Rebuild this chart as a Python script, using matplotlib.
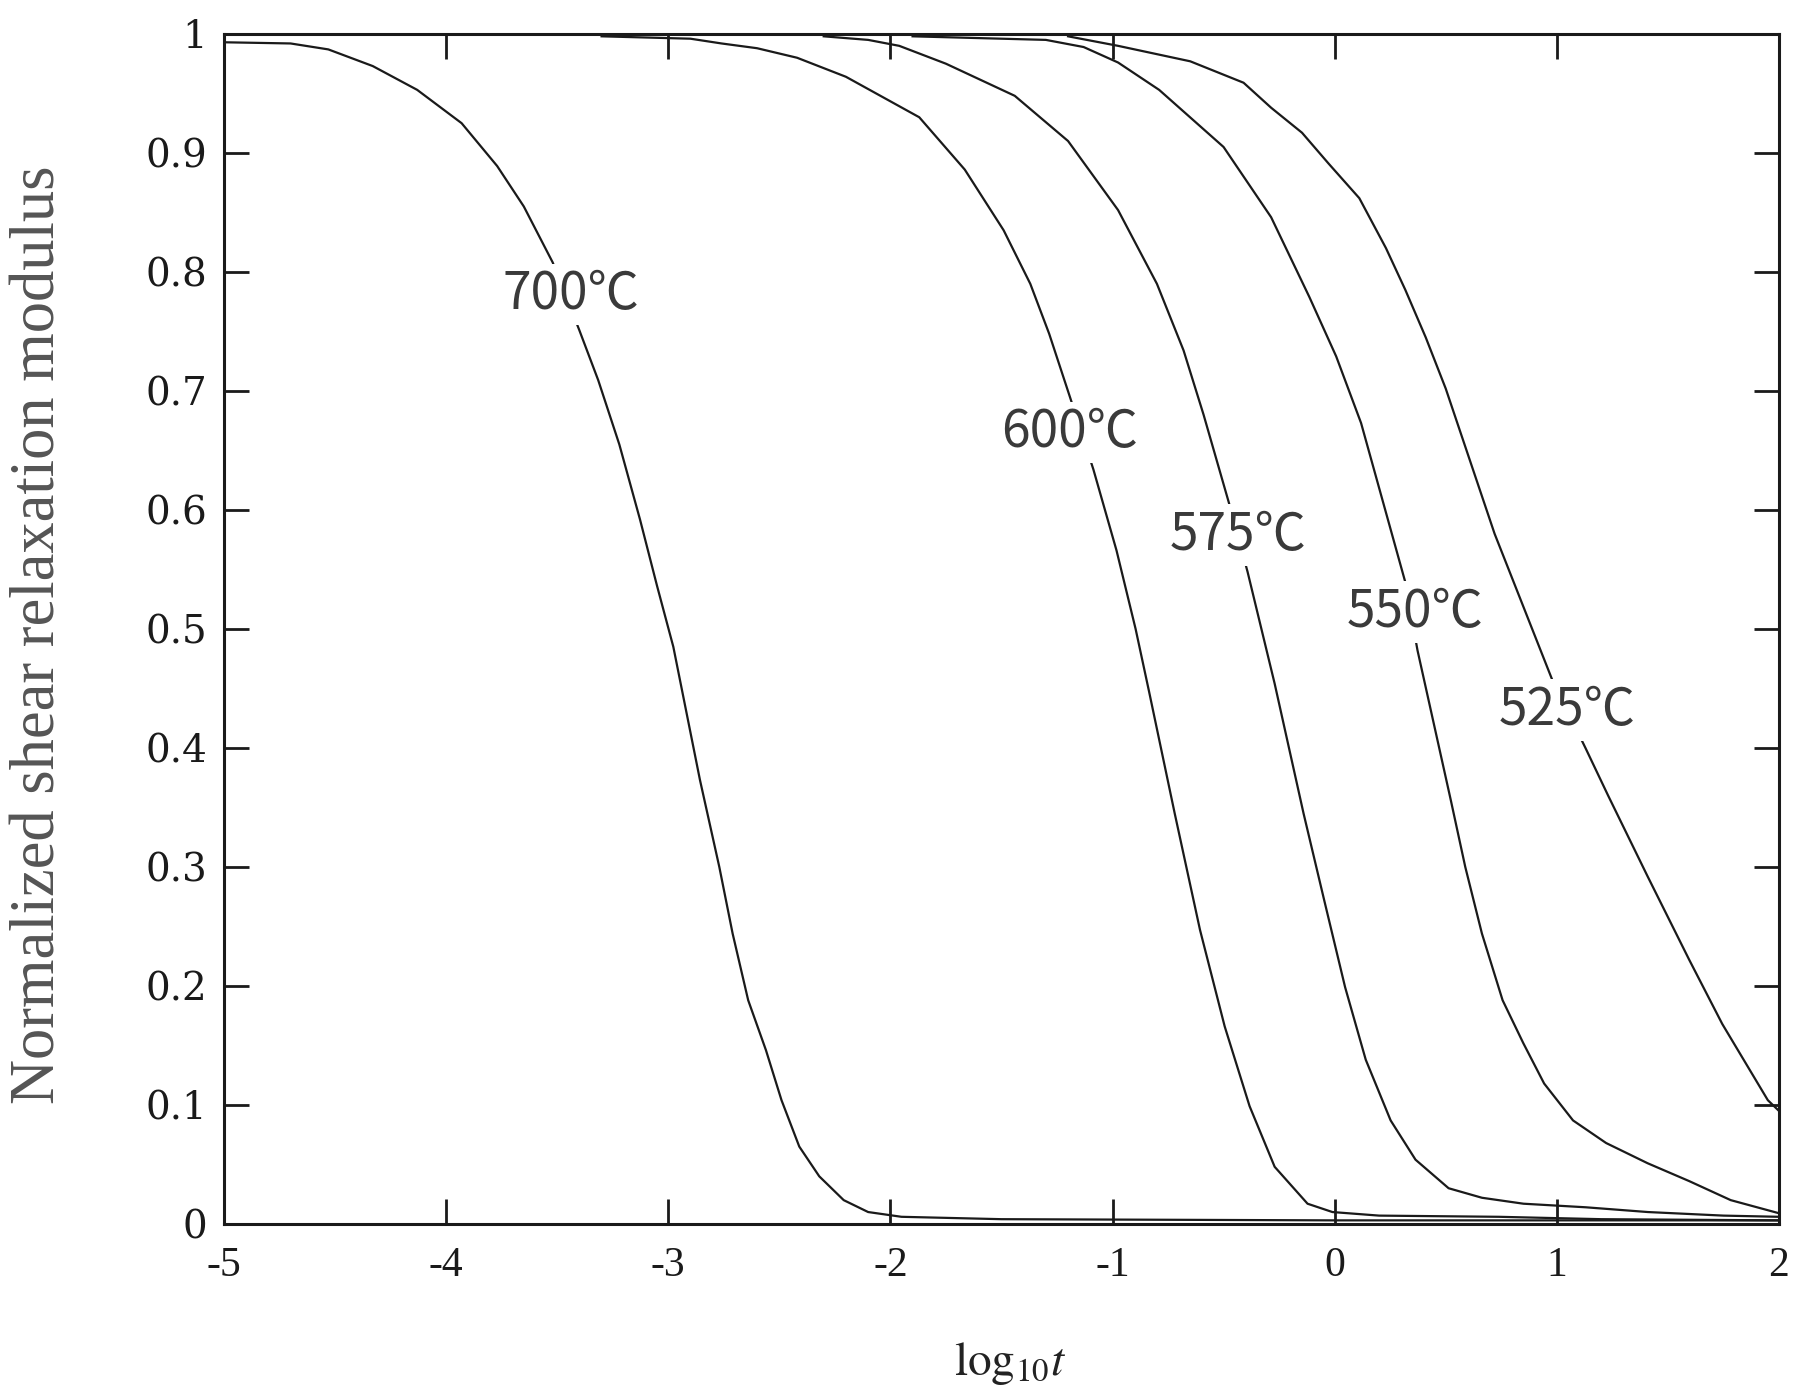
import matplotlib
matplotlib.use("Agg")
import matplotlib.pyplot as plt

plt.rcParams['axes.unicode_minus'] = False
plt.rcParams['mathtext.fontset'] = 'stix'

# curves: log10 t vs normalized modulus
x700 = [-5.0, -4.7, -4.53, -4.33, -4.13, -3.93, -3.77, -3.65, -3.52, -3.40, -3.315, -3.22, -3.127, -3.05,
        -2.977, -2.857, -2.77, -2.71, -2.64, -2.56, -2.49, -2.41, -2.32, -2.21, -2.10, -1.95, -1.5, 0.0, 2.0]
y700 = [0.993, 0.992, 0.987, 0.973, 0.953, 0.925, 0.889, 0.855, 0.808, 0.751, 0.709, 0.655, 0.592, 0.536,
        0.485, 0.373, 0.300, 0.244, 0.188, 0.146, 0.104, 0.065, 0.040, 0.020, 0.010, 0.006, 0.004, 0.003, 0.003]

x600 = [-3.3, -2.9, -2.76, -2.6, -2.42, -2.2, -1.87, -1.665, -1.49, -1.37, -1.285, -1.19, -1.086, -0.982,
        -0.896, -0.835, -0.72, -0.606, -0.495, -0.383, -0.27, -0.122, -0.01, 0.2, 0.74, 1.2, 2.0]
y600 = [0.998, 0.996, 0.992, 0.988, 0.980, 0.964, 0.930, 0.886, 0.835, 0.790, 0.748, 0.694, 0.634, 0.566,
        0.500, 0.447, 0.345, 0.247, 0.166, 0.099, 0.048, 0.017, 0.010, 0.007, 0.006, 0.004, 0.003]

x575 = [-2.3, -2.1, -1.96, -1.75, -1.44, -1.2, -0.975, -0.80, -0.68, -0.59, -0.476, -0.392, -0.27, -0.14,
        -0.047, 0.047, 0.14, 0.252, 0.364, 0.513, 0.663, 0.85, 1.13, 1.41, 1.75, 2.0]
y575 = [0.998, 0.995, 0.990, 0.975, 0.948, 0.910, 0.852, 0.790, 0.734, 0.680, 0.606, 0.548, 0.454, 0.345,
        0.272, 0.199, 0.138, 0.087, 0.054, 0.030, 0.022, 0.017, 0.014, 0.010, 0.007, 0.006]

x550 = [-1.9, -1.3, -1.13, -0.975, -0.79, -0.5, -0.286, -0.114, 0.007, 0.119, 0.317, 0.373, 0.523, 0.588,
        0.663, 0.756, 0.849, 0.943, 1.073, 1.222, 1.409, 1.596, 1.783, 2.0]
y550 = [0.998, 0.995, 0.989, 0.976, 0.953, 0.905, 0.846, 0.779, 0.729, 0.673, 0.540, 0.482, 0.356, 0.300,
        0.244, 0.188, 0.152, 0.118, 0.087, 0.068, 0.051, 0.036, 0.020, 0.009]

x525 = [-1.2, -0.975, -0.65, -0.41, -0.286, -0.147, -0.027, 0.111, 0.231, 0.318, 0.41, 0.50, 0.72, 0.98,
        1.129, 1.231, 1.409, 1.596, 1.745, 1.95, 2.0]
y525 = [0.998, 0.990, 0.977, 0.959, 0.938, 0.917, 0.891, 0.862, 0.820, 0.785, 0.745, 0.702, 0.580, 0.457,
        0.400, 0.360, 0.292, 0.222, 0.168, 0.104, 0.095]

labels = ['700℃', '600℃', '575℃', '550℃', '525℃']
label_x = [-3.44, -1.195, -0.434, 0.364, 1.045]
label_y = [0.781, 0.665, 0.579, 0.514, 0.432]

xticks = [-5, -4, -3, -2, -1, 0, 1, 2]
yticks = [0, 0.1, 0.2, 0.3, 0.4, 0.5, 0.6, 0.7, 0.8, 0.9, 1]
ytick_labels = ['0', '0.1', '0.2', '0.3', '0.4', '0.5', '0.6', '0.7', '0.8', '0.9', '1']

fig = plt.figure(figsize=(18, 13.91), dpi=100)
ax = fig.add_axes([0.1244, 0.1201, 0.8639, 0.8555])

for xs, ys in [(x700, y700), (x600, y600), (x575, y575), (x550, y550), (x525, y525)]:
    ax.plot(xs, ys, color='#1a1a1a', lw=1.6, zorder=2)

for lab, lx, ly in zip(labels, label_x, label_y):
    ax.text(lx, ly, lab, ha='center', va='center', fontsize=37, color='#3a3a3a',
            family=['Liberation Sans Narrow', 'Noto Sans CJK JP', 'DejaVu Sans'],
            bbox=dict(facecolor='white', edgecolor='none', pad=3), zorder=3)

ax.set_xlim(-5, 2)
ax.set_ylim(0, 1)
ax.set_xticks(xticks)
ax.set_xticklabels([str(v) for v in xticks], family='Liberation Serif', fontsize=30)
ax.set_yticks(yticks)
ax.set_yticklabels(ytick_labels, family='DejaVu Serif', fontsize=28)
ax.tick_params(direction='in', length=18, width=2, top=True, right=True, colors='#1a1a1a')
ax.tick_params(axis='x', pad=16)
ax.tick_params(axis='y', pad=12)
for s in ax.spines.values():
    s.set_linewidth(2.2)
    s.set_color('#1a1a1a')

fig.text(0.022, 0.544, 'Normalized shear relaxation modulus', rotation=90, ha='center', va='center',
         family='Liberation Serif', fontsize=45, color='#555555')
fig.text(0.561, 0.02, r'$\mathrm{log}_{10}t$', ha='center', va='center', fontsize=34, color='#222222')

fig.savefig('out.png', dpi=100)
